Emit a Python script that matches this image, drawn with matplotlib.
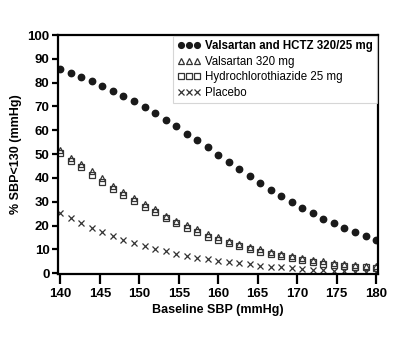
import matplotlib
matplotlib.use('Agg')
import matplotlib.pyplot as plt
import numpy as np

# 基線收縮壓 (140-180, 31 點)
baseline_sbp = np.linspace(140, 180, 31)

combo = [85.7, 84.1, 82.4, 80.7, 78.8, 76.6, 74.4, 72.3, 69.6, 67.1, 64.3, 61.6, 58.6, 56.0, 52.9,
         49.8, 46.8, 43.8, 40.8, 38.0, 35.1, 32.5, 30.0, 27.4, 25.2, 22.9, 21.0, 19.0, 17.3, 15.6, 14.1]
valsartan = [51.8, 48.4, 45.8, 42.8, 39.8, 36.7, 34.2, 31.4, 29.0, 26.8, 24.2, 22.1, 20.1, 18.4, 16.6,
             15.1, 13.6, 12.3, 11.2, 10.1, 9.1, 8.1, 7.3, 6.4, 5.7, 5.0, 4.4, 3.9, 3.5, 3.2, 2.9]
hctz = [50.4, 47.0, 44.4, 41.4, 38.4, 35.3, 33.0, 30.2, 27.8, 25.6, 23.0, 20.9, 18.9, 17.2, 15.4,
        14.1, 12.6, 11.3, 10.2, 9.1, 8.1, 7.1, 6.3, 5.4, 4.7, 4.0, 3.4, 2.9, 2.7, 2.4, 2.1]
placebo = [25.4, 23.1, 21.1, 19.1, 17.3, 15.6, 14.1, 12.7, 11.4, 10.3, 9.2, 8.1, 7.3, 6.5, 6.0,
           5.3, 4.8, 4.2, 3.7, 3.2, 2.8, 2.4, 2.1, 1.8, 1.5, 1.3, 1.0, 0.8, 0.7, 0.6, 0.5]

labels = ['Valsartan and HCTZ 320/25 mg', 'Valsartan 320 mg', 'Hydrochlorothiazide 25 mg', 'Placebo']

plt.rcParams['font.family'] = ['Liberation Sans', 'DejaVu Sans']

fig = plt.figure(figsize=(4.0, 3.47), dpi=100)
ax = fig.add_axes([0.145, 0.21, 0.80, 0.689])

ax.plot(baseline_sbp, combo, 'o', color='#1a1a1a', ms=4.6, ls='none', label=labels[0])
ax.plot(baseline_sbp, valsartan, '^', mfc='none', mec='#333333', mew=0.9, ms=4.6, ls='none', label=labels[1])
ax.plot(baseline_sbp, hctz, 's', mfc='none', mec='#333333', mew=0.9, ms=4.2, ls='none', label=labels[2])
ax.plot(baseline_sbp, placebo, 'x', color='#333333', mew=0.9, ms=4.6, ls='none', label=labels[3])

ax.set_xlim(139.7, 180.25)
ax.set_ylim(-0.4, 100)
ax.set_xticks(range(140, 181, 5))
ax.set_yticks(range(0, 101, 10))
for s in ax.spines.values():
    s.set_linewidth(1.6)
ax.tick_params(axis='x', length=7, width=1.6, labelsize=9.5, pad=3)
ax.tick_params(axis='y', length=4, width=1.6, labelsize=9.5, pad=2)
for t in ax.get_xticklabels() + ax.get_yticklabels():
    t.set_fontweight('bold')

ax.set_xlabel('Baseline SBP (mmHg)', fontsize=9, fontweight='bold', labelpad=3)
ax.set_ylabel('% SBP<130 (mmHg)', fontsize=9, fontweight='bold', labelpad=4)

leg = ax.legend(loc='upper right', numpoints=3, fontsize=8.3, frameon=True, fancybox=False,
                borderpad=0.35, handlelength=2.0, handletextpad=0.4, labelspacing=0.3,
                borderaxespad=0.1, edgecolor='#cccccc', markerscale=0.9)
leg.get_frame().set_linewidth(0.8)
leg.get_texts()[0].set_fontweight('bold')

fig.savefig('out.png', dpi=100)
